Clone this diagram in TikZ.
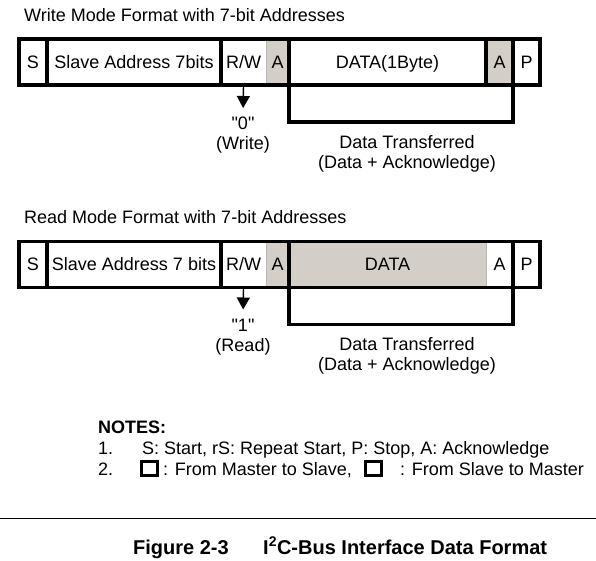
\documentclass[tikz,border=0pt]{standalone}
\usepackage{fontspec}
\newfontfamily\arialfont{Liberation Sans}
\usetikzlibrary{arrows.meta}
\definecolor{ackgray}{RGB}{211,207,200}
\definecolor{edgegray}{RGB}{185,183,178}
\tikzset{
  cell/.style={inner sep=0pt, outer sep=0pt, minimum height=46pt, anchor=west, fill=white,
    text height=12.9pt, text depth=0pt, font=\fontsize{18}{21.6}\selectfont\arialfont},
  graycell/.style={cell, fill=ackgray},
  frame/.style={line width=3.1pt},
  thinsep/.style={line width=0.8pt, draw=edgegray},
  bracket/.style={line width=3.1pt},
  txt/.style={anchor=base west, inner sep=0pt, font=\fontsize{18}{21.6}\selectfont\arialfont},
  boldtxt/.style={txt, font=\fontsize{18}{21.6}\selectfont\arialfont\bfseries},
  lbl/.style={anchor=north, inner sep=0pt, align=center, font=\fontsize{18}{20}\selectfont\arialfont},
  rwarrow/.style={line width=1.4pt, -{Triangle[width=13pt,length=12pt]}, shorten >=9pt},
  keybox/.style={draw, line width=3pt, minimum width=16pt, minimum height=14pt, inner sep=0pt}
}
\begin{document}
\begin{tikzpicture}[x=1pt,y=-1pt]
\path[use as bounding box] (0,0) rectangle (596,561);
% write mode
\node[txt] (wtitle) at (24,21.5) {Write Mode Format with 7-bit Addresses};
\node[cell, minimum width=28pt] (ws) at (19,62) {S};
\node[cell, minimum width=174pt] (waddr) at (47,62) {Slave Address 7bits};
\node[cell, minimum width=45pt] (wrw) at (221,62) {R/W};
\node[graycell, minimum width=23pt] (wack) at (266,62) {A};
\node[cell, minimum width=197pt] (wdata) at (289,62) {DATA(1Byte)};
\node[graycell, minimum width=27pt] (wack2) at (486,62) {A};
\node[cell, minimum width=27pt] (wp) at (513,62) {P};
\draw[thinsep] (wack.north west) -- (wack.south west);
\draw[frame] (ws.north west) rectangle (wp.south east);
\foreach \c in {waddr,wrw,wdata,wack2,wp}
  \draw[frame] (\c.north west) -- (\c.south west);
\draw[bracket] (wdata.south west) -- ++(0,37) -| (wack2.south east);
\node[lbl] (wxfer) at (407,135) {Data Transferred\\(Data + Acknowledge)};
\node[lbl] (wval) at (243,117) {"0"\\(Write)};
\draw[rwarrow] (wrw.south) -- (wval.north);
% read mode
\node[txt] (rtitle) at (24,223) {Read Mode Format with 7-bit Addresses};
\node[cell, minimum width=28pt] (rs) at (19,264.5) {S};
\node[cell, minimum width=174pt] (raddr) at (47,264.5) {Slave Address 7 bits};
\node[cell, minimum width=45pt] (rrw) at (221,264.5) {R/W};
\node[graycell, minimum width=23pt] (rack) at (266,264.5) {A};
\node[graycell, minimum width=197pt] (rdata) at (289,264.5) {DATA};
\node[cell, minimum width=27pt] (rack2) at (486,264.5) {A};
\node[cell, minimum width=27pt] (rp) at (513,264.5) {P};
\draw[thinsep] (rack.north west) -- (rack.south west);
\draw[thinsep] (rack2.north west) -- (rack2.south west);
\draw[frame] (rs.north west) rectangle (rp.south east);
\foreach \c in {raddr,rrw,rdata,rp}
  \draw[frame] (\c.north west) -- (\c.south west);
\draw[bracket] (rdata.south west) -- ++(0,37) -| (rack2.south east);
\node[lbl] (rxfer) at (407,337) {Data Transferred\\(Data + Acknowledge)};
\node[lbl] (rval) at (243,318.5) {"1"\\(Read)};
\draw[rwarrow] (rrw.south) -- (rval.north);
% notes
\node[boldtxt] (notes) at (98,433) {NOTES:};
\node[txt] (n1num) at (98,454) {1.};
\node[txt] (n1) at (142,454) {S: Start, rS: Repeat Start, P: Stop, A: Acknowledge};
\node[txt] (n2num) at (98,475) {2.};
\node[keybox] (mkey) at (149.5,468.5) {};
\node[txt] (n2a) at (163,475) {: From Master to Slave,};
\node[keybox] (skey) at (373,468.5) {};
\node[txt] (n2b) at (400,475) {: From Slave to Master};
\draw[line width=1pt] (0,518) -- (596,518);
% caption
\node[txt, font=\fontsize{20}{24}\selectfont\arialfont\bfseries] (figno) at (133,554) {Figure 2-3};
\node[txt, font=\fontsize{20}{24}\selectfont\arialfont\bfseries] (figtitle) at (263,554) {I\textsuperscript{2}C-Bus Interface Data Format};
\end{tikzpicture}
\end{document}
